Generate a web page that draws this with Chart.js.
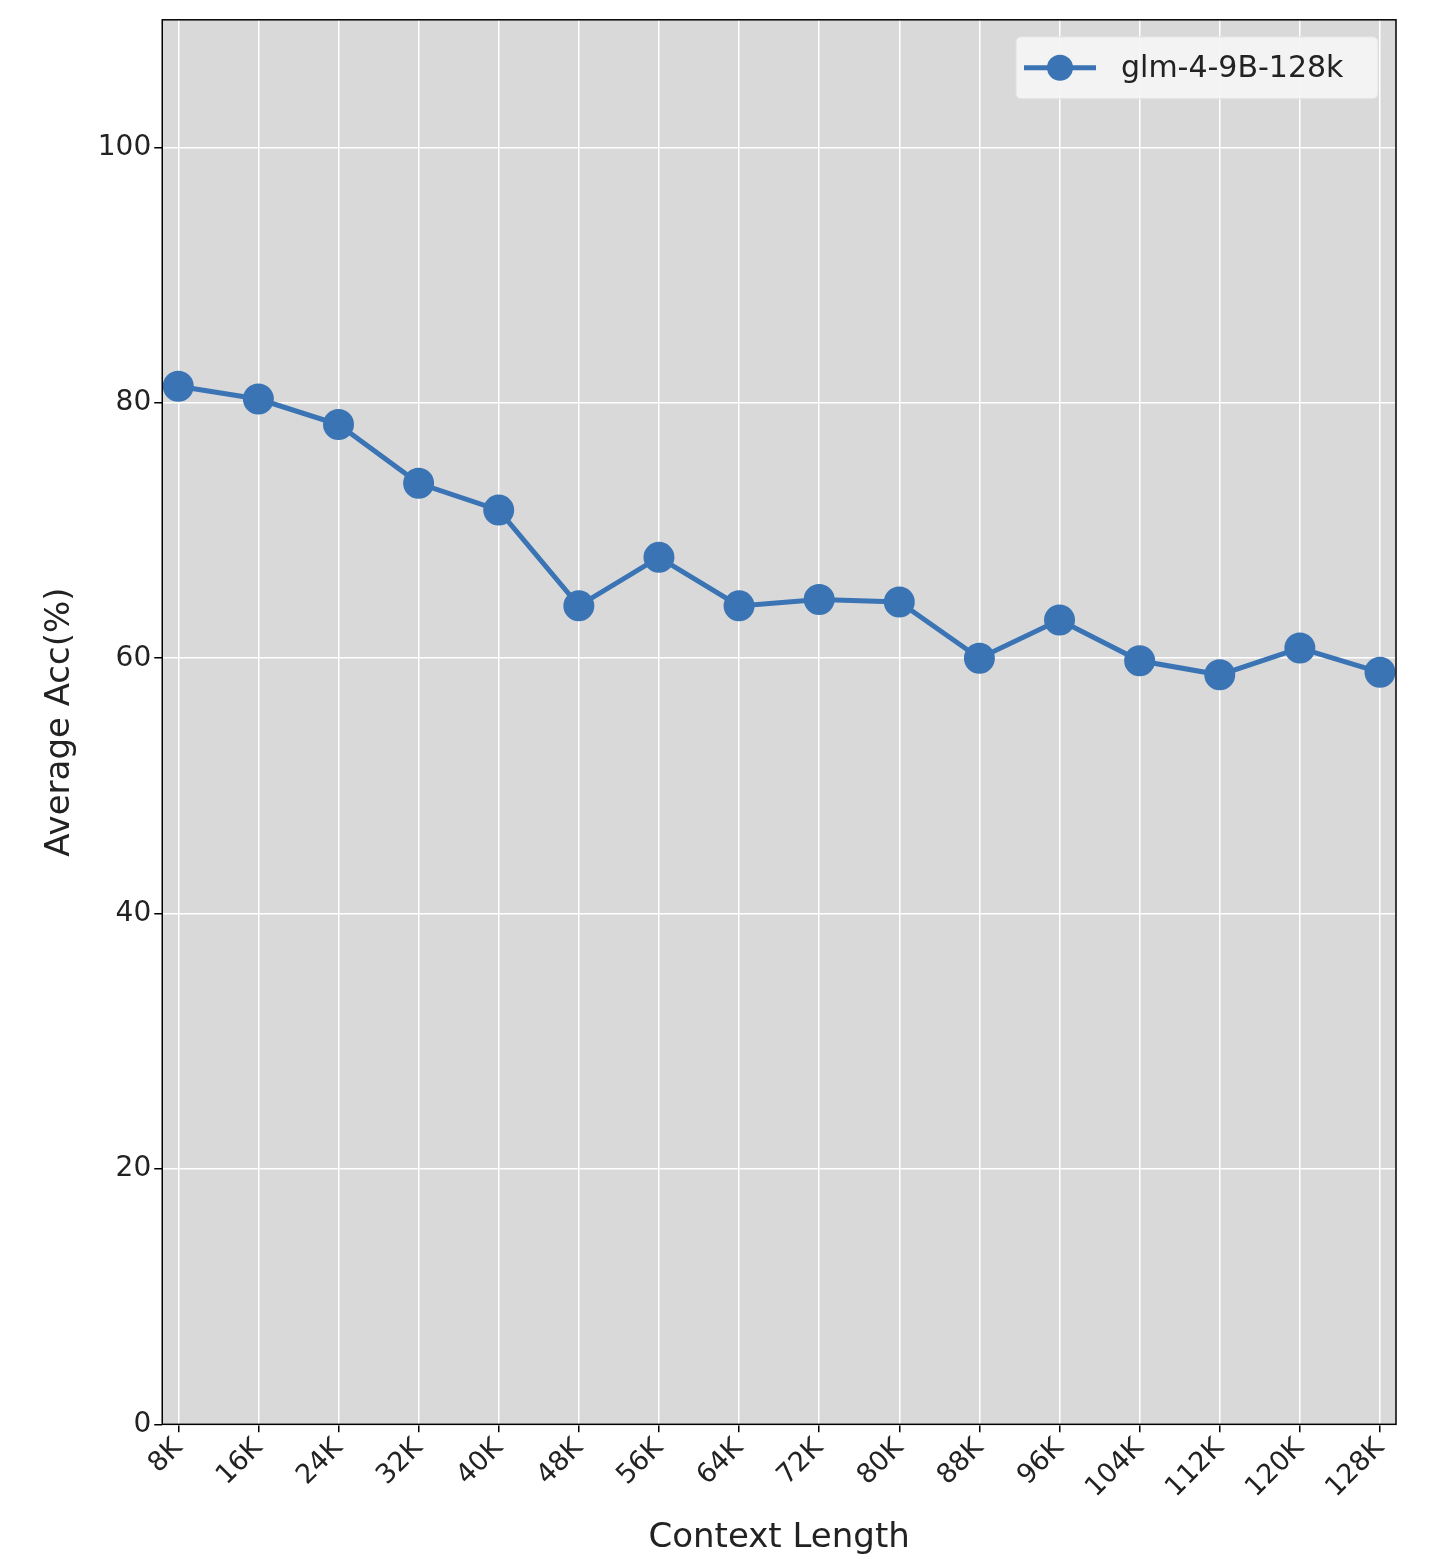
<!DOCTYPE html>
<html>
<head>
<meta charset="utf-8">
<script src="https://cdn.jsdelivr.net/npm/chart.js@4"></script>
<style>
  html, body { margin: 0; padding: 0; background: #fff; }
  #wrap { width: 1442px; height: 1564px; }
</style>
</head>
<body>
<div id="wrap"><canvas id="c"></canvas></div>
<script>
// data
const contextK = [8, 16, 24, 32, 40, 48, 56, 64, 72, 80, 88, 96, 104, 112, 120, 128];
const accValues = [81.3, 80.3, 78.3, 73.7, 71.6, 64.1, 67.9, 64.1, 64.6, 64.4, 60.0, 63.0, 59.8, 58.7, 60.8, 58.9];
const yTicks = [0, 20, 40, 60, 80, 100];
const seriesName = 'glm-4-9B-128k';
const lineColor = '#3a74b4';

// gray plot background + frame + legend
const plotBg = {
  id: 'plotBg',
  beforeDraw(chart) {
    const { ctx, chartArea: a } = chart;
    ctx.save();
    ctx.fillStyle = '#d9d9d9';
    ctx.fillRect(a.left, a.top, a.right - a.left, a.bottom - a.top);
    ctx.restore();
  },
  afterDraw(chart) {
    const { ctx, chartArea: a } = chart;
    ctx.save();
    ctx.strokeStyle = '#000';
    ctx.lineWidth = 1.5;
    ctx.strokeRect(a.left, a.top, a.right - a.left, a.bottom - a.top);
    const w = 362, h = 62, x = a.right - w - 18, y = a.top + 17;
    ctx.fillStyle = 'rgba(245,245,245,0.9)';
    ctx.strokeStyle = '#e0e0e0';
    ctx.lineWidth = 1;
    ctx.beginPath();
    ctx.roundRect(x, y, w, h, 5);
    ctx.fill();
    ctx.stroke();
    ctx.strokeStyle = lineColor;
    ctx.lineWidth = 5;
    ctx.beginPath();
    ctx.moveTo(x + 8, y + h / 2);
    ctx.lineTo(x + 80, y + h / 2);
    ctx.stroke();
    ctx.fillStyle = lineColor;
    ctx.beginPath();
    ctx.arc(x + 44, y + h / 2, 13, 0, Math.PI * 2);
    ctx.fill();
    ctx.fillStyle = '#222';
    ctx.font = '30px "DejaVu Sans"';
    ctx.textBaseline = 'middle';
    ctx.fillText(seriesName, x + 105, y + h / 2 + 1);
    ctx.restore();
  }
};

new Chart(document.getElementById('c'), {
  type: 'line',
  data: {
    datasets: [{
      label: seriesName,
      data: contextK.map((k, i) => ({ x: k, y: accValues[i] })),
      borderColor: lineColor,
      backgroundColor: lineColor,
      borderWidth: 5,
      pointRadius: 13,
      pointHoverRadius: 13,
      tension: 0
    }]
  },
  options: {
    responsive: true,
    maintainAspectRatio: false,
    animation: false,
    layout: { padding: { left: 40, top: 12, right: 46, bottom: 5 } },
    plugins: { legend: { display: false }, tooltip: { enabled: false } },
    scales: {
      x: {
        type: 'linear',
        min: 6.4,
        max: 129.6,
        afterBuildTicks(axis) { axis.ticks = contextK.map(v => ({ value: v })); },
        grid: { color: '#ffffff', lineWidth: 1.5, tickColor: '#000', tickLength: 8 },
        border: { display: false },
        ticks: {
          color: '#222',
          font: { family: 'DejaVu Sans', size: 27 },
          maxRotation: 45, minRotation: 45,
          padding: 0,
          callback: v => v + 'K'
        },
        title: { display: true, text: 'Context Length', color: '#222', font: { family: 'DejaVu Sans', size: 34 }, padding: { top: 14, bottom: 0 } }
      },
      y: {
        min: 0,
        max: 110,
        afterBuildTicks(axis) { axis.ticks = yTicks.map(v => ({ value: v })); },
        grid: { color: '#ffffff', lineWidth: 1.5, tickColor: '#000', tickLength: 8 },
        border: { display: false },
        ticks: { color: '#222', font: { family: 'DejaVu Sans', size: 28 } },
        title: { display: true, text: 'Average Acc(%)', color: '#222', font: { family: 'DejaVu Sans', size: 34 }, padding: { top: 0, bottom: 14 } }
      }
    }
  },
  plugins: [plotBg]
});
</script>
</body>
</html>
